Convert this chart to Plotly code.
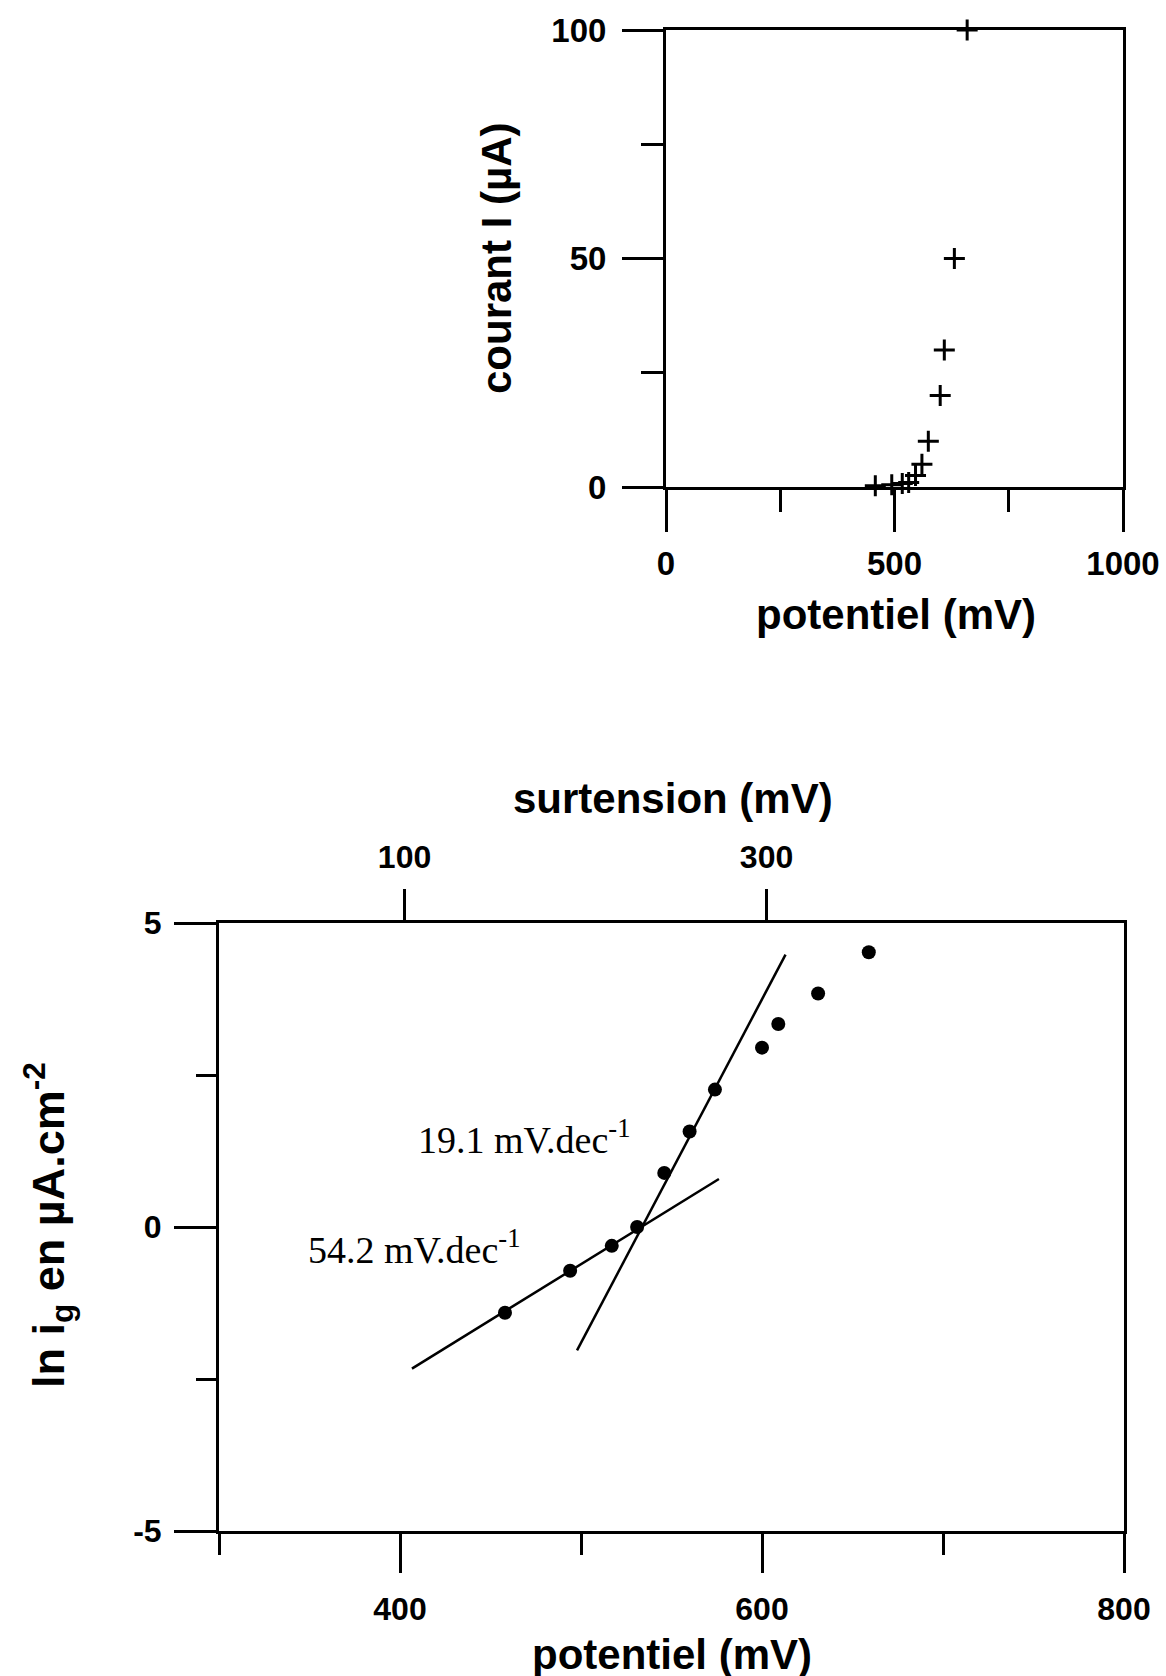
import plotly.graph_objects as go

# ---- data ----
potentiel_mV = [458, 494, 517, 531, 546, 560, 574, 600, 609, 631, 659]
courant_uA = [0.25, 0.5, 0.75, 1, 2.5, 5, 10, 20, 30, 50, 100]
ln_ig = [-1.41, -0.72, -0.31, 0.0, 0.89, 1.57, 2.26, 2.95, 3.34, 3.84, 4.52]

# Tafel fit lines (end points)
fit54_x = [406.6, 576.2]
fit54_y = [-2.33, 0.79]
fit19_x = [497.8, 613.0]
fit19_y = [-2.03, 4.48]

# tick values / labels
top_x_ticks = [0, 500, 1000]
top_x_minor = [250, 750]
top_y_ticks = [0, 50, 100]
top_y_minor = [25, 75]
bot_x_ticks = [400, 600, 800]
bot_x_minor = [300, 500, 700]
bot_y_ticks = [-5, 0, 5]
bot_y_labels = ["-5", "0", "5"]
bot_y_minor = [-2.5, 2.5]
surt_ticks = [100, 300]

W, H = 1166, 1676
SANS = "Liberation Sans, Arial, Helvetica, sans-serif"
SERIF = "Liberation Serif, Times New Roman, serif"


def px_x(p):
    return p / W


def px_y(p):
    return 1 - p / H


fig = go.Figure()

fig.add_trace(go.Scatter(
    x=potentiel_mV, y=courant_uA, mode="markers",
    marker=dict(symbol="cross-thin", size=15, line=dict(width=3, color="black"), color="black"),
    xaxis="x", yaxis="y", showlegend=False, cliponaxis=False))

fig.add_trace(go.Scatter(
    x=fit54_x, y=fit54_y, mode="lines", line=dict(color="black", width=2.5),
    xaxis="x2", yaxis="y2", showlegend=False))
fig.add_trace(go.Scatter(
    x=fit19_x, y=fit19_y, mode="lines", line=dict(color="black", width=2.5),
    xaxis="x2", yaxis="y2", showlegend=False))
fig.add_trace(go.Scatter(
    x=potentiel_mV, y=ln_ig, mode="markers",
    marker=dict(symbol="circle", size=14, color="black"),
    xaxis="x2", yaxis="y2", showlegend=False))
# empty trace to hold the top (surtension) axis
fig.add_trace(go.Scatter(x=[None], y=[None], xaxis="x3", yaxis="y2",
                         showlegend=False, hoverinfo="skip"))

tf_top = dict(family=SANS, size=33, color="black", weight="bold")
tf_bot = dict(family=SANS, size=32, color="black", weight="bold")
common = dict(showgrid=False, zeroline=False, showline=True, linecolor="black",
              linewidth=3, mirror=True, ticks="outside", tickwidth=3, tickcolor="black",
              tickmode="array", automargin=False)


def minor(vals, ln):
    return dict(tickmode="array", tickvals=vals, ticks="outside",
                ticklen=ln, tickwidth=3, tickcolor="black")


fig.update_layout(
    template="none",
    width=W, height=H,
    margin=dict(l=0, r=0, t=0, b=0, pad=0, autoexpand=False),
    paper_bgcolor="white", plot_bgcolor="white",
    xaxis=dict(domain=[px_x(666), px_x(1123)], range=[0, 1000], anchor="y",
               tickvals=top_x_ticks, ticklen=42, ticklabelstandoff=3,
               tickfont=tf_top, minor=minor(top_x_minor, 22), **common),
    yaxis=dict(domain=[px_y(487), px_y(30)], range=[0, 100], anchor="x",
               tickvals=top_y_ticks, ticklen=41, ticklabelstandoff=9,
               tickfont=tf_top, minor=minor(top_y_minor, 22), **common),
    xaxis2=dict(domain=[px_x(219), px_x(1124)], range=[300, 800], anchor="y2",
                tickvals=bot_x_ticks, ticklen=39, ticklabelstandoff=9,
                tickfont=tf_bot, minor=minor(bot_x_minor, 21), **common),
    yaxis2=dict(domain=[px_y(1531), px_y(923)], range=[-5, 5], anchor="x2",
                tickvals=bot_y_ticks, ticktext=bot_y_labels, ticklen=42,
                ticklabelstandoff=6, tickfont=tf_bot,
                minor=minor(bot_y_minor, 20), **common),
    xaxis3=dict(overlaying="x2", side="top", anchor="y2", range=[-2.5, 497.5],
                tickmode="array", tickvals=surt_ticks, ticks="outside", ticklen=33,
                tickwidth=3, tickcolor="black", showline=False, showgrid=False,
                zeroline=False, tickfont=tf_bot, ticklabelstandoff=8,
                automargin=False),
)

title_font = dict(family=SANS, size=42, color="black", weight="bold")
ann = [
    dict(text="potentiel (mV)", x=px_x(896), y=px_y(614), font=title_font),
    dict(text="courant I (µA)", x=px_x(496), y=px_y(258), font=title_font, textangle=-90),
    dict(text="surtension (mV)", x=px_x(673), y=px_y(799), font=title_font),
    dict(text="potentiel (mV)", x=px_x(672), y=px_y(1654), font=title_font),
    dict(text="ln i<sub>g</sub> en µA.cm<sup>-2</sup>", x=px_x(48), y=px_y(1225),
         font=dict(family=SANS, size=45, color="black", weight="bold"), textangle=-90),
    dict(text="19.1 mV.dec<sup>-1</sup>", x=px_x(416), y=px_y(1137), xanchor="left",
         font=dict(family=SERIF, size=38, color="black")),
    dict(text="54.2 mV.dec<sup>-1</sup>", x=px_x(306), y=px_y(1247), xanchor="left",
         font=dict(family=SERIF, size=38, color="black")),
]
for a in ann:
    a.setdefault("xanchor", "center")
    a.setdefault("yanchor", "middle")
    fig.add_annotation(xref="paper", yref="paper", showarrow=False, **a)

fig.write_html(
    "out.html",
    config={"displayModeBar": False},
    post_script="document.body.style.margin='0';"
                "document.documentElement.style.overflow='hidden';",
)
